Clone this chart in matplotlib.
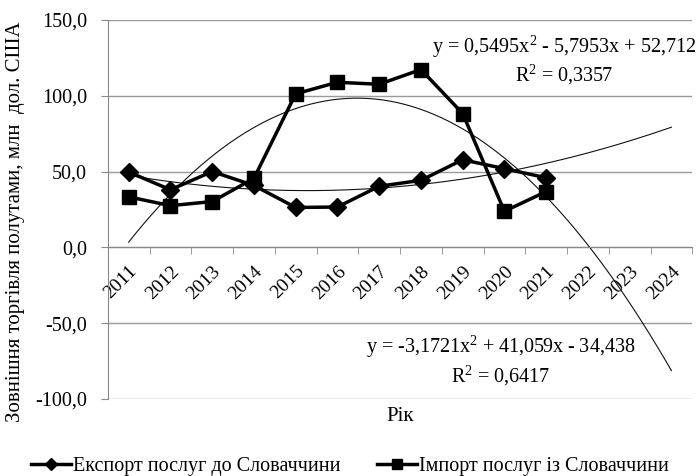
import numpy as np
import matplotlib
matplotlib.use("Agg")
import matplotlib.pyplot as plt
from matplotlib.ticker import FuncFormatter

plt.rcParams['font.family'] = ['Liberation Serif', 'DejaVu Serif']
plt.rcParams['mathtext.fontset'] = 'custom'
plt.rcParams['mathtext.rm'] = 'Liberation Serif'

years = ['2011', '2012', '2013', '2014', '2015', '2016', '2017',
         '2018', '2019', '2020', '2021', '2022', '2023', '2024']
export_vals = [49.7, 38.0, 50.0, 40.8, 26.3, 26.6, 40.3, 44.2, 57.8, 51.9, 45.9]
import_vals = [33.3, 27.5, 30.2, 45.5, 101.3, 108.9, 107.6, 117.3, 88.3, 23.8, 36.8]

# trend coefficients as printed on the chart (x = 1, 2, ...)
export_trend = [0.5495, -5.7953, 52.712]
import_trend = [-3.1721, 41.059, -34.438]
export_eq = 'y = 0,5495x$^\\mathrm{2}$ - 5,7953x + 52,712\nR$^\\mathrm{2}$ = 0,3357'
import_eq = 'y = -3,1721x$^\\mathrm{2}$ + 41,059x - 34,438\nR$^\\mathrm{2}$ = 0,6417'

fig = plt.figure(figsize=(7, 4.76), dpi=100)
ax = fig.add_axes([0.154, 0.162, 0.835, 0.796])

x_all = np.arange(1, len(years) + 1)
x_data = np.arange(1, len(export_vals) + 1)
xs = np.linspace(1, len(years), 300)

ax.plot(xs, np.polyval(export_trend, xs), color='#111111', lw=0.8, zorder=2)
ax.plot(xs, np.polyval(import_trend, xs), color='#111111', lw=0.8, zorder=2)

ax.plot(x_data, export_vals, color='black', lw=2.5, marker='D', ms=9,
        label='Експорт послуг до Словаччини', zorder=3)
ax.plot(x_data, import_vals, color='black', lw=2.5, marker='s', ms=10,
        label='Імпорт послуг із Словаччини', zorder=4)

ax.set_xlim(0.5, len(years) + 0.5)
ax.set_ylim(-100, 150)
ax.set_yticks([-100, -50, 0, 50, 100, 150])
ax.yaxis.set_major_formatter(FuncFormatter(lambda v, p: f'{v:.1f}'.replace('.', ',')))
ax.tick_params(axis='y', labelsize=14.5, length=5, color='#888888', pad=10)
ax.grid(axis='y', color='#999999', lw=1)
ax.set_axisbelow(True)

ax.set_xticks(x_all)
ax.set_xticks(np.arange(0.5, len(years) + 1), minor=True)
ax.tick_params(axis='x', which='major', length=0, labelsize=14, pad=11)
ax.tick_params(axis='x', which='minor', length=5, color='#888888')
ax.set_xticklabels(years)

ax.spines['bottom'].set_position(('data', 0))
ax.spines['bottom'].set_color('#888888')
ax.spines['left'].set_color('#888888')
ax.spines['top'].set_visible(False)
ax.spines['right'].set_visible(False)

fig.text(0.022, 0.534, 'Зовнішня торгівля полутами, млн  дол. США', fontsize=15,
         rotation=90, ha='center', va='center')

fig.text(0.806, 0.874, export_eq, fontsize=14.5, ha='center', va='center',
         multialignment='center', linespacing=1.15)
fig.text(0.716, 0.242, import_eq, fontsize=14.5, ha='center', va='center',
         multialignment='center', linespacing=1.15)
fig.text(0.572, 0.124, 'Рік', fontsize=15, ha='center', va='center')

fig.legend(loc='center', bbox_to_anchor=(0.5, 0.02), ncol=2, frameon=False,
           fontsize=14.5, handlelength=2.0, columnspacing=1.8, handletextpad=0.1,
           markerscale=0.7)

fig.canvas.draw()
for lab in ax.get_xticklabels():
    lab.set_rotation(45)
    lab.set_ha('right')
    lab.set_va('top')
    lab.set_rotation_mode('anchor')

fig.savefig('out.png', dpi=100)
